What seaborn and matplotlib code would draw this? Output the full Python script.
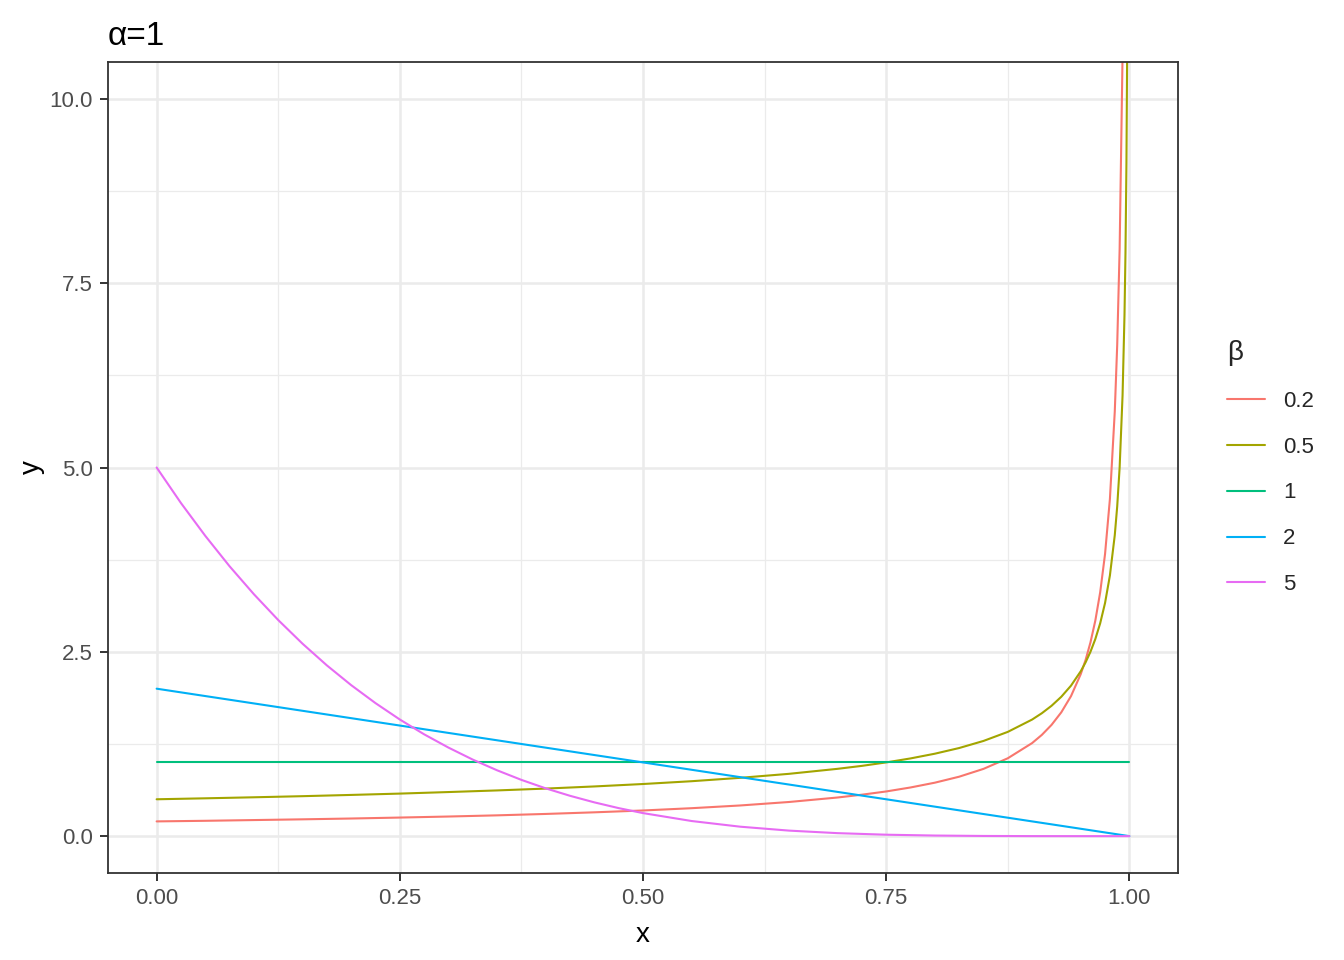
import numpy as np
import pandas as pd
import seaborn as sns
import matplotlib.pyplot as plt
from matplotlib.ticker import MultipleLocator

# values (alpha = 1)
x_02 = [0, 0.05, 0.1, 0.15, 0.2, 0.25, 0.3, 0.35, 0.4, 0.45, 0.5, 0.55, 0.6, 0.65, 0.7, 0.725, 0.75,
        0.775, 0.8, 0.825, 0.85, 0.875, 0.9, 0.91, 0.92, 0.93, 0.94, 0.95, 0.955, 0.96, 0.965, 0.97,
        0.975, 0.98, 0.985, 0.9875, 0.99, 0.993, 0.995]
y_02 = [0.200, 0.208, 0.218, 0.228, 0.239, 0.252, 0.266, 0.282, 0.301, 0.323, 0.348, 0.379, 0.416,
        0.463, 0.524, 0.562, 0.606, 0.660, 0.725, 0.806, 0.912, 1.056, 1.262, 1.373, 1.509, 1.679,
        1.899, 2.197, 2.390, 2.627, 2.923, 3.307, 3.826, 4.573, 5.758, 6.661, 7.962, 10.59, 13.86]

x_05 = [0, 0.05, 0.1, 0.15, 0.2, 0.25, 0.3, 0.35, 0.4, 0.45, 0.5, 0.55, 0.6, 0.65, 0.7, 0.725, 0.75,
        0.775, 0.8, 0.825, 0.85, 0.875, 0.9, 0.91, 0.92, 0.93, 0.94, 0.95, 0.955, 0.96, 0.965, 0.97,
        0.975, 0.98, 0.985, 0.9875, 0.99, 0.993, 0.995, 0.996, 0.997, 0.998]
y_05 = [0.500, 0.513, 0.527, 0.542, 0.559, 0.577, 0.598, 0.620, 0.645, 0.674, 0.707, 0.745, 0.791,
        0.845, 0.913, 0.953, 1.000, 1.054, 1.118, 1.195, 1.291, 1.414, 1.581, 1.667, 1.768, 1.890,
        2.041, 2.236, 2.357, 2.500, 2.673, 2.887, 3.162, 3.536, 4.082, 4.472, 5.000, 5.976, 7.071,
        7.906, 9.129, 11.18]

x_1 = [0, 1]
y_1 = [1, 1]

x_2 = [0, 0.25, 0.5, 0.75, 1]
y_2 = [2, 1.5, 1, 0.5, 0]

x_5 = [0, 0.025, 0.05, 0.075, 0.1, 0.125, 0.15, 0.175, 0.2, 0.225, 0.25, 0.275, 0.3, 0.325, 0.35,
       0.375, 0.4, 0.425, 0.45, 0.475, 0.5, 0.55, 0.6, 0.65, 0.7, 0.75, 0.8, 0.85, 0.9, 0.95, 1]
y_5 = [5.000, 4.518, 4.073, 3.660, 3.281, 2.931, 2.610, 2.316, 2.048, 1.804, 1.582, 1.381, 1.201,
       1.038, 0.893, 0.763, 0.648, 0.547, 0.458, 0.380, 0.3125, 0.205, 0.128, 0.075, 0.0405,
       0.0195, 0.008, 0.0025, 0.0005, 0.00003, 0]

betas = ['0.2', '0.5', '1', '2', '5']
colors = ['#F8766D', '#A3A500', '#00BF7D', '#00B0F6', '#E76BF3']

frames = []
for b, xs, ys in zip(betas, [x_02, x_05, x_1, x_2, x_5], [y_02, y_05, y_1, y_2, y_5]):
    frames.append(pd.DataFrame({'x': xs, 'y': ys, 'β': b}))
df = pd.concat(frames, ignore_index=True)

sns.set_theme(style='white')
plt.rcParams['font.family'] = ['Liberation Sans', 'DejaVu Sans']

fig = plt.figure(figsize=(13.44, 9.6), dpi=100)
ax = fig.add_axes([108 / 1344, 1 - 873 / 960, (1178 - 108) / 1344, (873 - 62) / 960])

sns.lineplot(data=df, x='x', y='y', hue='β', hue_order=betas,
             palette=dict(zip(betas, colors)), linewidth=1.5, sort=False,
             estimator=None, ax=ax)

ax.set_xlim(-0.05, 1.05)
ax.set_ylim(-0.5, 10.5)
ax.set_xticks([0, 0.25, 0.5, 0.75, 1.0])
ax.set_xticklabels(['0.00', '0.25', '0.50', '0.75', '1.00'])
ax.set_yticks([0, 2.5, 5, 7.5, 10])
ax.set_yticklabels(['0.0', '2.5', '5.0', '7.5', '10.0'])
ax.xaxis.set_minor_locator(MultipleLocator(0.125))
ax.yaxis.set_minor_locator(MultipleLocator(1.25))

ax.grid(which='major', color='#EBEBEB', linewidth=1.8)
ax.grid(which='minor', color='#EBEBEB', linewidth=0.9)
ax.set_axisbelow(True)
ax.tick_params(which='major', length=6, width=1.4, color='#333333',
               labelsize=16, labelcolor='#4D4D4D', pad=5,
               bottom=True, left=True)
ax.tick_params(which='minor', length=0)
for s in ax.spines.values():
    s.set_visible(True)
    s.set_color('#333333')
    s.set_linewidth(1.3)

ax.set_xlabel('x', fontsize=20, color='black', labelpad=9)
ax.set_ylabel('y', fontsize=20, color='black', labelpad=3)
ax.set_title('α=1', loc='left', fontsize=24, color='black', pad=12)

sns.move_legend(ax, 'center left', bbox_to_anchor=(1.0275, 0.5), frameon=False,
                title='β', fontsize=16, title_fontsize=20, handlelength=1.7,
                labelspacing=1.12, handletextpad=0.8)
leg = ax.get_legend()
leg._legend_box.align = 'left'
for line in leg.get_lines():
    line.set_linewidth(1.5)

fig.savefig('out.png', dpi=100)
